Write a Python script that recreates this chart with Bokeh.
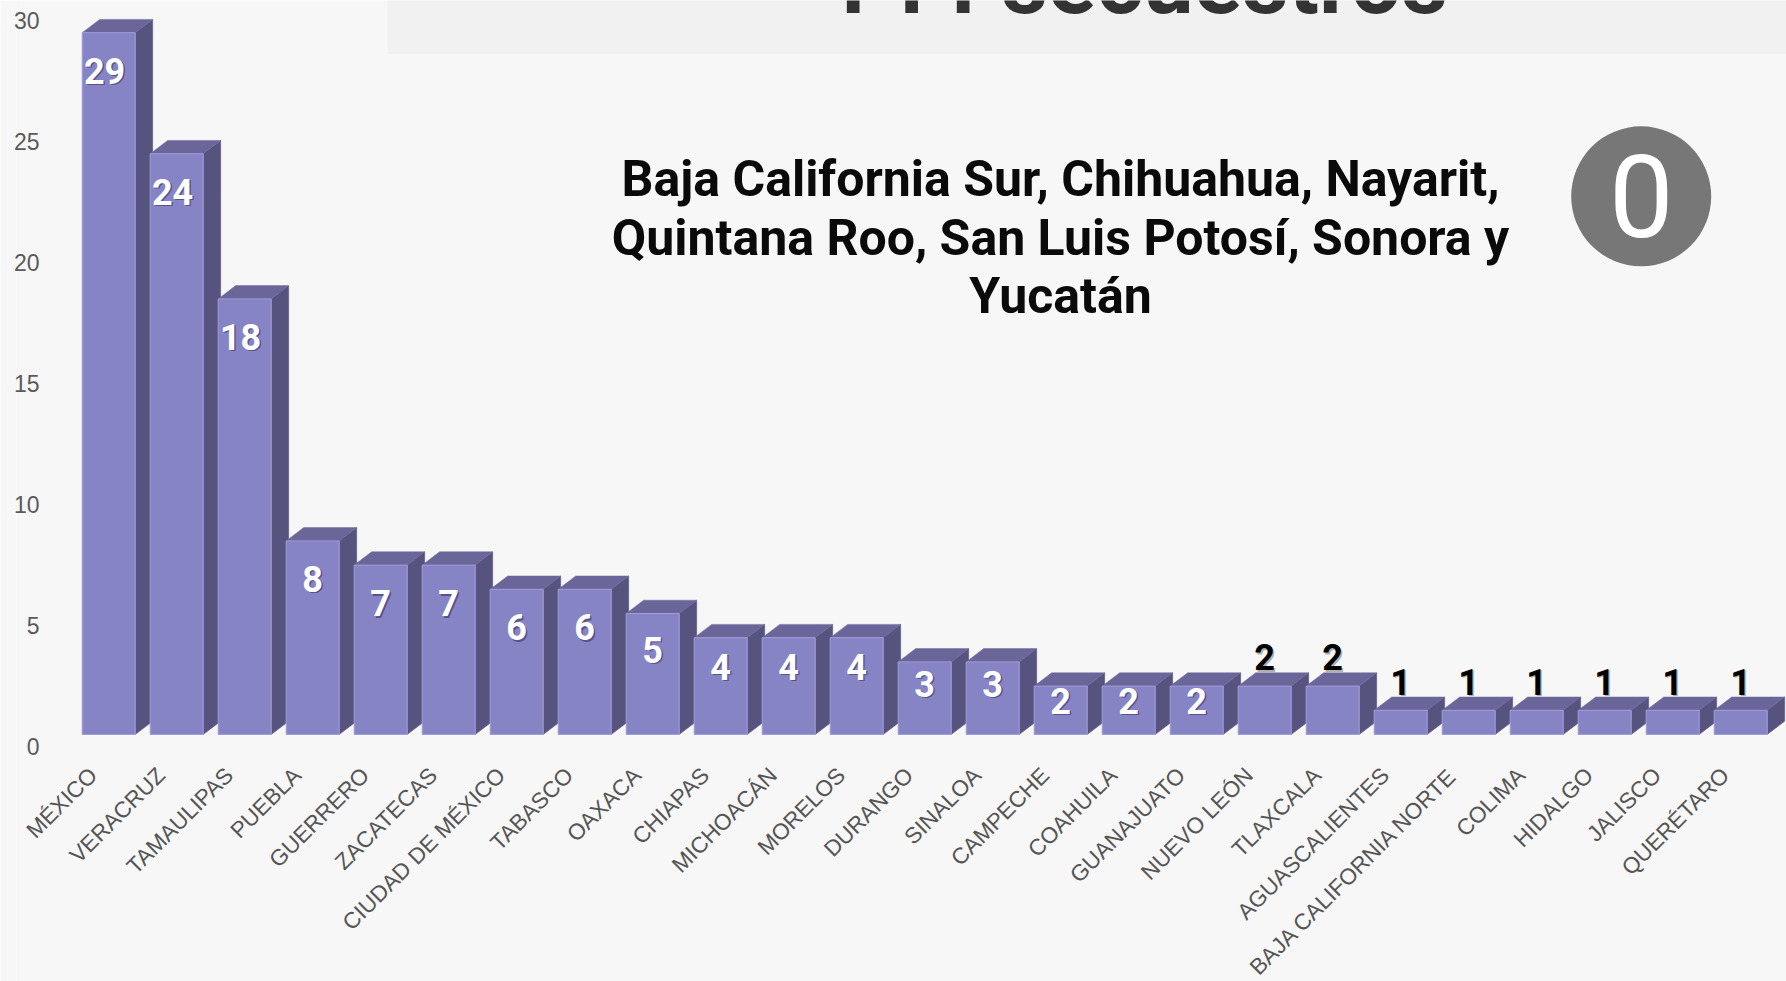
import math
from bokeh.plotting import figure
from bokeh.models import Range1d, LinearAxis, FixedTicker, ColumnDataSource
from bokeh.core.properties import value
from bokeh.embed import file_html
from bokeh.resources import INLINE

# ---------------- data ----------------
states = ["MÉXICO", "VERACRUZ", "TAMAULIPAS", "PUEBLA", "GUERRERO", "ZACATECAS",
          "CIUDAD DE MÉXICO", "TABASCO", "OAXACA", "CHIAPAS", "MICHOACÁN", "MORELOS",
          "DURANGO", "SINALOA", "CAMPECHE", "COAHUILA", "GUANAJUATO", "NUEVO LEÓN",
          "TLAXCALA", "AGUASCALIENTES", "BAJA CALIFORNIA NORTE", "COLIMA", "HIDALGO",
          "JALISCO", "QUERÉTARO"]
kidnappings = [29, 24, 18, 8, 7, 7, 6, 6, 5, 4, 4, 4, 3, 3, 2, 2, 2, 2, 2, 1, 1, 1, 1, 1, 1]
y_ticks = [0, 5, 10, 15, 20, 25, 30]
title_text = "144 secuestros"
zero_states = ["Baja California Sur, Chihuahua, Nayarit,",
               "Quintana Roo, San Luis Potosí, Sonora y",
               "Yucatán"]
zero_count = "0"

# ---------------- layout ----------------
W, H = 1786, 981
FL = 16            # frame left (canvas px)
PX_X = 68.0        # px per category
PX_Y = 24.2        # px per unit
X0 = 108.2         # x of first bar centre
BASE = 734.0       # y of bar baseline

def dx(px):   # canvas px -> data x
    return (px - X0) / PX_X

def dy(py):   # canvas py -> data y
    return (BASE - py) / PX_Y

x_range = Range1d(dx(FL), dx(W))
y_range = Range1d(dy(H), dy(0))

p = figure(width=W, height=H, x_range=x_range, y_range=y_range,
           output_backend="svg", toolbar_location=None,
           x_axis_location=None, y_axis_location=None,
           min_border_left=FL, min_border_right=0, min_border_top=0, min_border_bottom=0,
           background_fill_color="#f7f7f7", border_fill_color="#f7f7f7",
           outline_line_color=None)
p.grid.visible = False

# y axis (labels sit on the back wall, slightly lower than the front baseline)
AXV = 745.7
p.extra_y_ranges = {"ax": Range1d((AXV - H) / PX_Y, AXV / PX_Y)}
yax = LinearAxis(y_range_name="ax", ticker=FixedTicker(ticks=y_ticks),
                 axis_line_color=None, major_tick_line_color=None,
                 minor_tick_line_color=None, major_tick_out=0, major_tick_in=0,
                 minor_tick_out=0, minor_tick_in=0, major_label_standoff=-23,
                 major_label_text_font="Liberation Sans",
                 major_label_text_font_size="23px",
                 major_label_text_color="#5a5a5a")
p.add_layout(yax, "left")

# ---------------- title box ----------------
p.quad(left=[dx(387)], right=[dx(W) + 2], bottom=[dy(53.5)], top=[dy(0) + 3],
       fill_color="#f1f1f1", line_color=None)
p.text(x=[dx(1135.5)], y=[dy(13.5 - 0.355 * 90)], text=[title_text],
       text_font=value("Roboto"), text_font_style="bold", text_font_size="90px",
       text_color="#333333", text_align="center", text_baseline="middle")

# ---------------- 3D bars ----------------
n = len(states)
xs = list(range(n))
w = 53.0 / PX_X
ddx = 17.5 / PX_X
ddy = 13.3 / PX_Y

patch_xs, patch_ys, patch_col = [], [], []
for i, v in zip(xs, kidnappings):
    l, r = i - w / 2, i + w / 2
    patch_xs.append([r, r + ddx, r + ddx, r])          # side face
    patch_ys.append([0, ddy, v + ddy, v])
    patch_col.append("#57537f")
    patch_xs.append([l, l + ddx, r + ddx, r])          # top face
    patch_ys.append([v, v + ddy, v + ddy, v])
    patch_col.append("#6a6699")
p.patches(xs="xs", ys="ys", fill_color="col", line_color="col", line_width=0.5,
          source=ColumnDataSource(dict(xs=patch_xs, ys=patch_ys, col=patch_col)))

p.quad(left=[i - w / 2 for i in xs], right=[i + w / 2 for i in xs],
       bottom=0, top=kidnappings, fill_color="#8784c6",
       line_color="#a09dd8", line_width=1)

# ---------------- value labels ----------------
LAB = 36
inside = [v >= 2 and i < 17 for i, v in enumerate(kidnappings)]
wx, wy, wt = [], [], []
bx, by, bt = [], [], []
for i, v in enumerate(kidnappings):
    if inside[i]:
        off = min(38.0, 0.3 * v * PX_Y)
        wx.append(i - (0.06 if v >= 10 else 0.0))
        wy.append(v - off / PX_Y)
        wt.append(str(v))
    else:
        bx.append(i)
        by.append(v + (16.0 + 0.355 * LAB) / PX_Y)
        bt.append(str(v))

sh_x = 1.5 / PX_X
sh_y = 1.5 / PX_Y
lab_kw = dict(text_font=value("Roboto"), text_font_style="bold",
              text_font_size=f"{LAB}px", text_align="center", text_baseline="middle")
p.text(x=[a + sh_x for a in wx], y=[b - sh_y for b in wy], text=wt,
       text_color="#2e2b52", text_alpha=0.55, **lab_kw)
p.text(x=wx, y=wy, text=wt, text_color="#ffffff", **lab_kw)
p.text(x=[a + sh_x for a in bx], y=[b - sh_y for b in by], text=bt,
       text_color="#000000", text_alpha=0.3, **lab_kw)
p.text(x=bx, y=by, text=bt, text_color="#000000", **lab_kw)

# ---------------- category labels ----------------
p.text(x=[i - 15.5 / PX_X for i in xs], y=[-37.0 / PX_Y] * n, text=states,
       angle=math.pi / 4, text_align="right", text_baseline="middle",
       text_font=value("Liberation Sans"), text_font_size="22.5px",
       text_color="#555555")

# ---------------- states with zero ----------------
p.text(x=[dx(1060)] * 3, y=[dy(196.7 - 0.355 * 50 + k * 58.3) for k in range(3)],
       text=zero_states, text_font=value("Roboto"), text_font_style="bold",
       text_font_size="50px", text_color="#0a0a0a", text_align="center",
       text_baseline="middle")
p.scatter(x=[dx(1640.7)], y=[dy(195.8)], size=140, marker="circle",
          fill_color="#777777", line_color=None)
p.text(x=[dx(1640.7)], y=[dy(195.8)], text=[zero_count],
       text_font=value("Roboto"), text_font_size="115px", text_color="#ffffff",
       text_align="center", text_baseline="middle")

open("out.html", "w").write(file_html(p, INLINE))
